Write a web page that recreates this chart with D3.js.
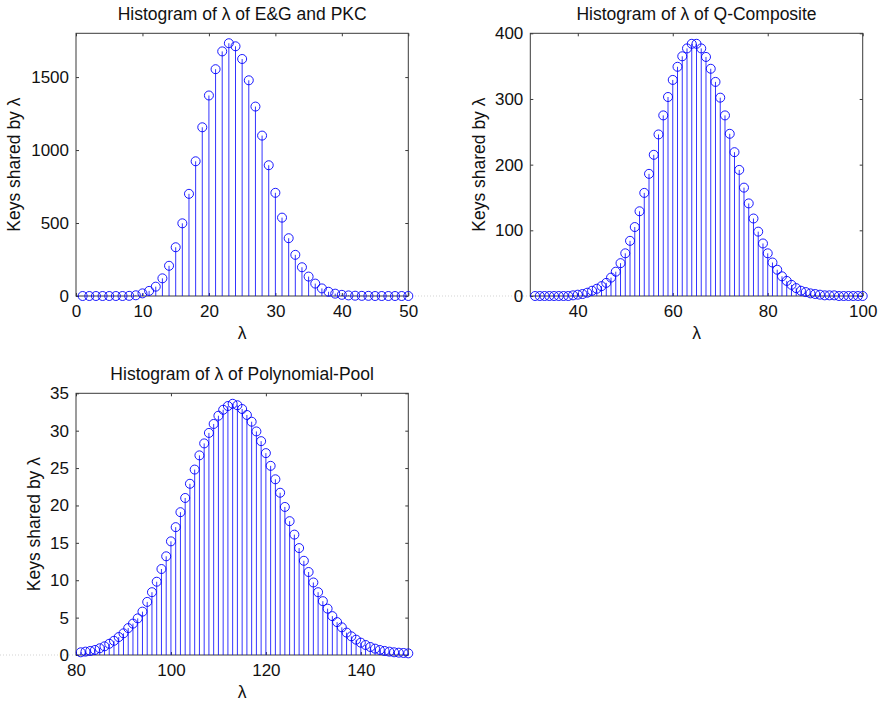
<!DOCTYPE html>
<html>
<head>
<meta charset="utf-8">
<script src="https://cdn.jsdelivr.net/npm/d3@7"></script>
<style>
  html, body { margin: 0; padding: 0; background: #fff; }
  svg { display: block; font-family: "Liberation Sans", Arial, Helvetica, sans-serif; }
</style>
</head>
<body>
<svg id="fig" width="879" height="705"></svg>
<script>
// λ values and key counts for each scheme
const lambdaEG = d3.range(1, 51);
const keysEG = [0, 0, 0, 0, 0, 0, 0, 1, 5, 18, 35, 64, 121, 207, 334, 498, 700, 923, 1156, 1374,
  1554, 1676, 1732, 1711, 1624, 1478, 1298, 1099, 896, 707, 537, 396, 282, 197, 133, 85, 52, 29, 16, 8,
  4, 2, 1, 1, 0, 0, 0, 0, 0, 0];

const lambdaQ = d3.range(31, 101);
const keysQ = [0, 0, 0, 0, 0, 0, 0, 0, 1, 2, 3, 5, 8, 11, 15, 20, 28, 37, 50, 65,
  84, 105, 129, 157, 186, 215, 246, 275, 303, 329, 349, 365, 377, 384, 384, 377, 364, 346, 326, 302,
  275, 247, 219, 192, 165, 141, 118, 98, 80, 65, 51, 40, 30, 23, 17, 12, 8, 6, 4, 3,
  2, 1, 1, 1, 0, 0, 0, 0, 0, 0];

const lambdaPP = d3.range(81, 151);
const keysPP = [0.36, 0.45, 0.54, 0.67, 0.9, 1.16, 1.5, 1.9, 2.4, 2.9, 3.6, 4.2, 4.9, 5.8, 7.1, 8.4, 9.8, 11.5, 13.2, 15.2,
  17.1, 19.1, 21.0, 22.9, 24.8, 26.7, 28.3, 29.7, 30.9, 32.0, 32.8, 33.3, 33.6, 33.4, 32.9, 32.1, 31.2, 29.9, 28.6, 27.0,
  25.3, 23.5, 21.7, 19.8, 17.9, 16.1, 14.3, 12.6, 11.1, 9.7, 8.4, 7.2, 6.2, 5.2, 4.4, 3.7, 3.0, 2.5, 2.05, 1.65,
  1.34, 1.07, 0.85, 0.67, 0.54, 0.45, 0.36, 0.31, 0.27, 0.22];

// axis ranges and tick values
const xDomEG = [0, 50], yDomEG = [0, 1800];
const xTicksEG = [0, 10, 20, 30, 40, 50], yTicksEG = [0, 500, 1000, 1500];
const xDomQ = [30, 100], yDomQ = [0, 400];
const xTicksQ = [40, 60, 80, 100], yTicksQ = [0, 100, 200, 300, 400];
const xDomPP = [80, 150], yDomPP = [0, 35];
const xTicksPP = [80, 100, 120, 140], yTicksPP = [0, 5, 10, 15, 20, 25, 30, 35];

const titles = ["Histogram of \u03bb of E&G and PKC", "Histogram of \u03bb of Q-Composite", "Histogram of \u03bb of Polynomial-Pool"];
const xLabel = "\u03bb";
const yLabel = "Keys shared by \u03bb";

const panels = [
  { x: lambdaEG, y: keysEG, xDom: xDomEG, yDom: yDomEG, xT: xTicksEG, yT: yTicksEG, title: titles[0],
    box: [76, 33.3, 408.3, 296], yLabOff: 56, baseFrom: null },
  { x: lambdaQ, y: keysQ, xDom: xDomQ, yDom: yDomQ, xT: xTicksQ, yT: yTicksQ, title: titles[1],
    box: [530.3, 33.3, 862.7, 296], yLabOff: 45, baseFrom: 415 },
  { x: lambdaPP, y: keysPP, xDom: xDomPP, yDom: yDomPP, xT: xTicksPP, yT: yTicksPP, title: titles[2],
    box: [76, 393.3, 408.3, 655], yLabOff: 36, baseFrom: 0 }
];

const svg = d3.select("#fig");
const BLUE = "#0000ff";
const AX = "#3a3a3a";

panels.forEach(p => {
  const [x0, y0, x1, y1] = p.box;
  const xs = d3.scaleLinear().domain(p.xDom).range([x0, x1]);
  const ys = d3.scaleLinear().domain(p.yDom).range([y1, y0]);
  const g = svg.append("g");

  // faint stem baseline running off to the left
  if (p.baseFrom !== null) {
    g.append("line")
      .attr("x1", p.baseFrom).attr("x2", x0)
      .attr("y1", ys(0)).attr("y2", ys(0))
      .attr("stroke", "#c8c8c8").attr("stroke-width", 0.8)
      .attr("stroke-dasharray", "1,2");
  }

  // axes (ticks pointing inward, mirrored on top and right)
  const tl = 3;
  const bottom = g.append("g").attr("transform", `translate(0,${y1})`)
    .call(d3.axisBottom(xs).tickValues(p.xT).tickSize(-tl).tickPadding(8).tickFormat(d3.format("d")));
  const top = g.append("g").attr("transform", `translate(0,${y0})`)
    .call(d3.axisTop(xs).tickValues(p.xT).tickSize(-tl).tickFormat(""));
  const left = g.append("g").attr("transform", `translate(${x0},0)`)
    .call(d3.axisLeft(ys).tickValues(p.yT).tickSize(-tl).tickPadding(7).tickFormat(d3.format("d")));
  const right = g.append("g").attr("transform", `translate(${x1},0)`)
    .call(d3.axisRight(ys).tickValues(p.yT).tickSize(-tl).tickFormat(""));
  [bottom, top, left, right].forEach(a => {
    a.select(".domain").remove();
    a.selectAll("line").attr("stroke", AX).attr("stroke-width", 1);
    a.selectAll("text").attr("fill", "#111").style("font-size", "17px")
      .style("font-family", "'Liberation Sans', Arial, sans-serif");
  });
  bottom.selectAll("text").attr("dy", "0.75em");

  g.append("rect")
    .attr("x", x0).attr("y", y0).attr("width", x1 - x0).attr("height", y1 - y0)
    .attr("fill", "none").attr("stroke", AX).attr("stroke-width", 1);

  // stems
  g.append("g").selectAll("line").data(p.x).join("line")
    .attr("x1", (d, i) => xs(d)).attr("x2", (d, i) => xs(d))
    .attr("y1", ys(0)).attr("y2", (d, i) => ys(p.y[i]))
    .attr("stroke", BLUE).attr("stroke-width", 0.8);

  // open circle markers
  g.append("g").selectAll("circle").data(p.x).join("circle")
    .attr("cx", d => xs(d)).attr("cy", (d, i) => ys(p.y[i]))
    .attr("r", 4.5)
    .attr("fill", "none").attr("stroke", BLUE).attr("stroke-width", 0.9);

  // title and axis labels
  g.append("text")
    .attr("x", (x0 + x1) / 2).attr("y", y0 - 13)
    .attr("text-anchor", "middle").style("font-size", "17.5px").attr("fill", "#111")
    .text(p.title);
  g.append("text")
    .attr("x", (x0 + x1) / 2).attr("y", y1 + 43)
    .attr("text-anchor", "middle").style("font-size", "17.5px").attr("fill", "#111")
    .text(xLabel);
  g.append("text")
    .attr("transform", `translate(${x0 - p.yLabOff},${(y0 + y1) / 2}) rotate(-90)`)
    .attr("text-anchor", "middle").style("font-size", "17.5px").attr("fill", "#111")
    .text(yLabel);
});
</script>
</body>
</html>
